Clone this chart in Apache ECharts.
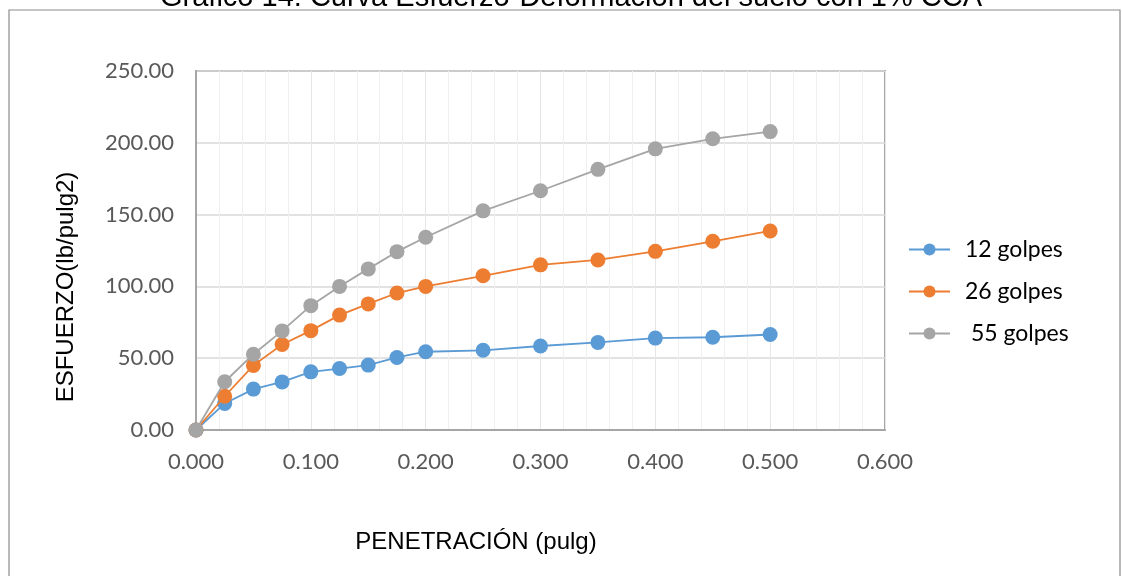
<!DOCTYPE html>
<html>
<head>
<meta charset="utf-8">
<script src="https://cdn.jsdelivr.net/npm/echarts@6/dist/echarts.min.js"></script>
<style>
  html, body { margin: 0; padding: 0; background: #fff; }
  #chart { width: 1122px; height: 576px; }
</style>
</head>
<body>
<div id="chart"></div>
<script>
// Penetration readings (pulg)
const penetracion = [0.000, 0.025, 0.050, 0.075, 0.100, 0.125, 0.150, 0.175, 0.200, 0.250, 0.300, 0.350, 0.400, 0.450, 0.500];
// Stress for each compaction energy (lb/pulg2)
const golpes12 = [0, 18.5, 28.5, 33.5, 40.5, 42.8, 45.2, 50.5, 54.5, 55.5, 58.5, 61, 64, 64.6, 66.5];
const golpes26 = [0, 23.5, 45, 59.5, 69.2, 80, 87.8, 95.4, 100, 107.4, 115, 118.4, 124.4, 131.4, 138.6];
const golpes55 = [0, 33.6, 52.8, 69, 86.6, 100, 112.2, 124.2, 134.2, 152.6, 166.6, 181.5, 195.8, 202.8, 207.8];
const seriesNames = ['12 golpes', '26 golpes', ' 55 golpes'];
const seriesColors = ['#5b9bd5', '#ed7d31', '#a5a5a5'];
const seriesValues = [golpes12, golpes26, golpes55];

const chartTitle = 'Gráfico 14: Curva Esfuerzo-Deformación del suelo con 1% CCA';
const xTitle = 'PENETRACIÓN (pulg)';
const yTitle = 'ESFUERZO(lb/pulg2)';

const chart = echarts.init(document.getElementById('chart'));

const series = seriesNames.map((name, i) => ({
  name: name,
  type: 'line',
  data: penetracion.map((x, j) => [x, seriesValues[i][j]]),
  symbol: 'circle',
  symbolSize: 15,
  itemStyle: { color: seriesColors[i] },
  lineStyle: { color: seriesColors[i], width: 1.8 },
  z: 3 + i
}));

chart.setOption({
  animation: false,
  graphic: [
    {
      type: 'rect',
      shape: { x: 9, y: 10, width: 1111, height: 580 },
      style: { fill: 'none', stroke: '#8c8c8c', lineWidth: 1.2 },
      silent: true,
      z: -1
    },
    {
      type: 'text',
      x: 571, y: -2,
      style: {
        text: chartTitle, align: 'center', verticalAlign: 'middle',
        fontFamily: 'Liberation Sans', fontSize: 29, fill: '#000'
      },
      silent: true
    },
    {
      type: 'text',
      x: 476, y: 542,
      style: {
        text: xTitle, align: 'center', verticalAlign: 'middle',
        fontFamily: 'Liberation Sans', fontSize: 24, fill: '#000'
      },
      silent: true
    },
    {
      type: 'text',
      x: 66, y: 287,
      rotation: Math.PI / 2,
      style: {
        text: yTitle, align: 'center', verticalAlign: 'middle',
        fontFamily: 'Liberation Sans', fontSize: 24, fill: '#000'
      },
      silent: true
    }
  ],
  grid: {
    left: 196, right: 237, top: 71, bottom: 146,
    show: true, borderColor: '#a6a6a6', borderWidth: 2, backgroundColor: 'transparent'
  },
  legend: {
    orient: 'vertical',
    left: 903, top: 233,
    itemWidth: 41, itemHeight: 15, itemGap: 19,
    textStyle: { fontFamily: 'Lato', fontSize: 23, color: '#000', padding: [0, 0, 0, 10] },
    data: seriesNames
  },
  xAxis: {
    type: 'value',
    min: 0, max: 0.6, interval: 0.1,
    axisLine: { show: true, lineStyle: { color: '#a6a6a6', width: 2 } },
    axisTick: { show: false },
    axisLabel: { formatter: v => v.toFixed(3), fontFamily: 'Lato', fontSize: 22, color: '#595959', margin: 21 },
    splitLine: { show: true, lineStyle: { color: '#e6e6e6', width: 1 } },
    minorTick: { show: false, splitNumber: 5 },
    minorSplitLine: { show: true, lineStyle: { color: '#f0f0f0', width: 1 } }
  },
  yAxis: {
    type: 'value',
    min: 0, max: 250, interval: 50,
    axisLine: { show: true, lineStyle: { color: '#a6a6a6', width: 2 } },
    axisTick: { show: false },
    axisLabel: { formatter: v => v.toFixed(2), fontFamily: 'Lato', fontSize: 22, color: '#595959', margin: 22 },
    splitLine: { show: true, lineStyle: { color: '#d9d9d9', width: 1.5 } }
  },
  series: series
});
</script>
</body>
</html>
